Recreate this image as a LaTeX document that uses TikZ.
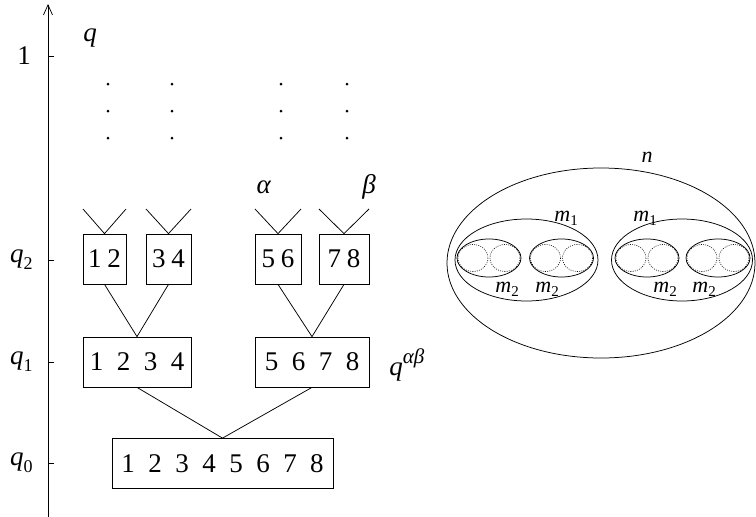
\documentclass[tikz,border=0pt]{standalone}
\usepackage{fontspec}
\setmainfont{Liberation Serif}
\usetikzlibrary{arrows.meta}

% italic letter with a lowered upright index
\newcommand\idx[4]{\textit{#1}\raisebox{-#4}{\fontsize{#3}{#3}\selectfont #2}}
\newcommand\bg{\hspace{13.5pt}}
\newcommand\sg{\hspace{6pt}}

\begin{document}
\begin{tikzpicture}[x=1pt,y=-1pt,
  line width=0.75pt,
  every node/.style={inner sep=0pt, font=\fontsize{27}{32}\selectfont},
  box/.style={draw, line width=0.75pt, minimum height=50pt},
  tick/.style={line width=0.75pt},
  dotmark/.style={fill=black, circle, minimum size=3pt},
  inner/.style={dash pattern=on 0.9pt off 1.3pt, line width=0.6pt},
  lab/.style={font=\fontsize{22}{26}\selectfont}]
\useasboundingbox (0,0) rectangle (756,517);

% vertical q axis with its ticks
\coordinate (axbot) at (48,517);
\coordinate (axtop) at (48,4);
\draw[-{Straight Barb[length=10pt,width=9pt]}] (axbot) -- (axtop);
\foreach \n/\y in {t1/56, t2/260, t3/362, t4/463}{
  \coordinate (\n) at (48,\y);
  \draw[tick] (\n) -- ++(6,0);
}
\node (l1) at (24,56) {1};
\node[anchor=base east] (lq2) at (33,262) {\idx{q}{2}{18}{7pt}};
\node[anchor=base east] (lq1) at (33,364) {\idx{q}{1}{18}{7pt}};
\node[anchor=base east] (lq0) at (33,465) {\idx{q}{0}{18}{7pt}};
\node[anchor=base] (lq) at (90,41) {\textit{q}};

% continuation dots
\foreach \x in {108,172,281,347}{
  \foreach \y in {84,111,138}{
    \node[dotmark] at (\x,\y) {};
  }
}

% level q2
\node[box, minimum width=43pt] (b12) at (104.5,259) {1\sg2};
\node[box, minimum width=45pt] (b34) at (168.5,259) {3\sg4};
\node[box, minimum width=46pt] (b56) at (278,259) {5\sg6};
\node[box, minimum width=50pt] (b78) at (344,259) {7\sg8};

% level q1
\node[box, minimum width=108pt] (b1234) at (137,362) {1\bg2\bg3\bg4};
\node[box, minimum width=114pt] (b5678) at (312,362) {5\bg6\bg7\bg8};

% level q0
\node[box, minimum width=221pt] (ball) at (222.5,463.5) {1\bg2\bg3\bg4\bg5\bg6\bg7\bg8};

% open branches above the top boxes
\coordinate (b12l) at (83,209);  \coordinate (b12r) at (126,209);
\coordinate (b34l) at (146,209); \coordinate (b34r) at (191,209);
\coordinate (b56l) at (255,209); \coordinate (b56r) at (301,209);
\coordinate (b78l) at (319,209); \coordinate (b78r) at (369,209);
\foreach \b in {b12,b34,b56,b78}{
  \draw (\b l) -- (\b.north) -- (\b r);
}

% merging branches
\draw (b12.south) -- (b1234.north) -- (b34.south);
\draw (b56.south) -- (b5678.north) -- (b78.south);
\draw (b1234.south) -- (ball.north) -- (b5678.south);

% labels of the tree
\node[anchor=base] (la) at (264,193) {\textit{α}};
\node[anchor=base] (lb) at (369,193) {\textit{β}};
\node[anchor=base west] (lqab) at (389,375)
  {\textit{q}\raisebox{12pt}{\fontsize{21}{21}\selectfont\itshape αβ}};

% nested ellipses
\draw (601,263) ellipse [x radius=154, y radius=95];
\draw (526.5,260) ellipse [x radius=71.5, y radius=41];
\draw (682,260) ellipse [x radius=70.5, y radius=41];
\foreach \c in {489,561.5,647,718}{
  \draw (\c,258) ellipse [x radius=32, y radius=19];
  \draw[inner] (\c-16,258) ellipse [x radius=15, y radius=13.5];
  \draw[inner] (\c+16,258) ellipse [x radius=15, y radius=13.5];
}
\node[lab, anchor=base] (ln) at (647,162) {\textit{n}};
\node[lab, anchor=base west] (lm1a) at (554,221) {\idx{m}{1}{15}{4pt}};
\node[lab, anchor=base west] (lm1b) at (633,221) {\idx{m}{1}{15}{4pt}};
\node[lab, anchor=base west] (lm2a) at (495,292) {\idx{m}{2}{15}{4pt}};
\node[lab, anchor=base west] (lm2b) at (535,292) {\idx{m}{2}{15}{4pt}};
\node[lab, anchor=base west] (lm2c) at (653,292) {\idx{m}{2}{15}{4pt}};
\node[lab, anchor=base west] (lm2d) at (692,292) {\idx{m}{2}{15}{4pt}};
\end{tikzpicture}
\end{document}
